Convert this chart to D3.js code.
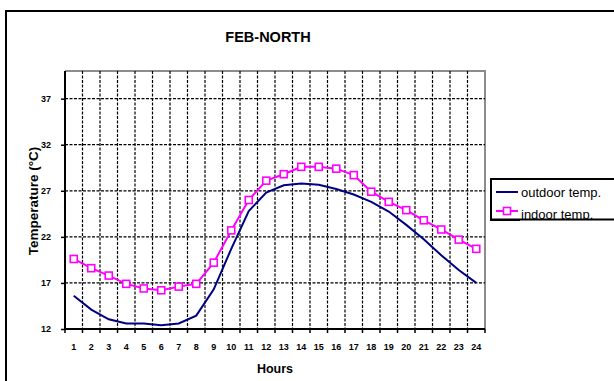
<!DOCTYPE html>
<html>
<head>
<meta charset="utf-8">
<script src="https://cdn.jsdelivr.net/npm/d3@7"></script>
<style>
  html, body { margin: 0; padding: 0; background: #fff; }
  svg { display: block; font-family: "Liberation Sans", Arial, sans-serif; }
</style>
</head>
<body>
<svg id="chart" width="614" height="381"></svg>
<script>
// Hourly temperatures, February, north-facing room
const hours = ["1","2","3","4","5","6","7","8","9","10","11","12","13","14","15","16","17","18","19","20","21","22","23","24"];
const outdoorTemp = [15.6, 14.1, 13.05, 12.6, 12.6, 12.4, 12.6, 13.45, 16.3, 20.7, 24.8, 26.8, 27.6, 27.8, 27.65, 27.2, 26.6, 25.8, 24.75, 23.3, 21.75, 20.0, 18.4, 17.0];
const indoorTemp  = [19.6, 18.6, 17.8, 16.9, 16.4, 16.2, 16.6, 16.9, 19.2, 22.7, 26.0, 28.1, 28.8, 29.6, 29.6, 29.4, 28.7, 26.9, 25.8, 24.9, 23.8, 22.8, 21.7, 20.7];
const yTicks = [12, 17, 22, 27, 32, 37];
const seriesNames = ["outdoor temp.", "indoor temp."];

const svg = d3.select("#chart");
const plot = { left: 65, right: 485, top: 71, bottom: 329 };

const x = d3.scaleBand().domain(hours).range([plot.left, plot.right]).padding(0);
const y = d3.scaleLinear().domain([12, 40]).range([plot.bottom, plot.top]);

// outer chart frame (runs past the right and bottom edges)
svg.append("rect")
  .attr("x", 6).attr("y", 11).attr("width", 640).attr("height", 420)
  .attr("fill", "none").attr("stroke", "#000").attr("stroke-width", 2);

// title
svg.append("text")
  .attr("x", 268).attr("y", 42)
  .attr("text-anchor", "middle")
  .attr("font-size", 14.5).attr("font-weight", "bold")
  .text("FEB-NORTH");

// plot area frame (top and right)
svg.append("path")
  .attr("d", `M${plot.left},${plot.top}H${plot.right}V${plot.bottom}`)
  .attr("fill", "none").attr("stroke", "#8c8c8c").attr("stroke-width", 2);

// horizontal gridlines
svg.append("g")
  .selectAll("line")
  .data(yTicks.filter(t => t > 12))
  .join("line")
  .attr("x1", plot.left).attr("x2", plot.right)
  .attr("y1", d => y(d)).attr("y2", d => y(d))
  .attr("stroke", "#000").attr("stroke-width", 1.2)
  .attr("stroke-dasharray", "3,1.5");

// vertical gridlines at category boundaries
const boundaries = hours.slice(1).map(h => x(h));
svg.append("g")
  .selectAll("line")
  .data(boundaries)
  .join("line")
  .attr("x1", d => d).attr("x2", d => d)
  .attr("y1", plot.top).attr("y2", plot.bottom)
  .attr("stroke", "#000").attr("stroke-width", 1.2)
  .attr("stroke-dasharray", "3,1.5");

// y axis
const yAxis = svg.append("g")
  .attr("transform", `translate(${plot.left},0)`)
  .call(d3.axisLeft(y).tickValues(yTicks).tickSize(4).tickPadding(10).tickFormat(d3.format("d")));
yAxis.select(".domain").attr("d", `M0,${plot.top}V${plot.bottom}`).attr("stroke-width", 2);
yAxis.selectAll(".tick line").attr("stroke-width", 1.5);
yAxis.selectAll("text")
  .attr("font-size", 9).attr("font-weight", "bold")
  .attr("font-family", "Liberation Sans, Arial, sans-serif");

// x axis: ticks at band edges, labels at band centers
const xAxis = svg.append("g")
  .attr("transform", `translate(0,${plot.bottom})`);
xAxis.append("line")
  .attr("x1", plot.left - 1).attr("x2", plot.right)
  .attr("stroke", "#000").attr("stroke-width", 2);
xAxis.selectAll(".edge")
  .data(hours.map(h => x(h)).concat([x(hours[hours.length - 1]) + x.bandwidth()]))
  .join("line")
  .attr("class", "edge")
  .attr("x1", d => d).attr("x2", d => d)
  .attr("y1", 0).attr("y2", 4)
  .attr("stroke", "#000").attr("stroke-width", 1.5);
xAxis.selectAll("text")
  .data(hours)
  .join("text")
  .attr("x", d => x(d) + x.bandwidth() / 2)
  .attr("y", 21)
  .attr("text-anchor", "middle")
  .attr("font-size", 9).attr("font-weight", "bold")
  .text(d => d);

// axis titles
svg.append("text")
  .attr("x", 275).attr("y", 373)
  .attr("text-anchor", "middle")
  .attr("font-size", 12.5).attr("font-weight", "bold")
  .text("Hours");

svg.append("text")
  .attr("transform", "translate(38,201) rotate(-90)")
  .attr("text-anchor", "middle")
  .attr("font-size", 13.5).attr("font-weight", "bold")
  .text("Temperature (°C)");

// series
const cx = (d, i) => x(hours[i]) + x.bandwidth() / 2;
const line = d3.line().x(cx).y(d => y(d));

svg.append("path")
  .datum(outdoorTemp)
  .attr("d", line)
  .attr("fill", "none").attr("stroke", "#000080").attr("stroke-width", 2);

svg.append("path")
  .datum(indoorTemp)
  .attr("d", line)
  .attr("fill", "none").attr("stroke", "#ff00ff").attr("stroke-width", 2);

const sq = 7;
svg.append("g")
  .selectAll("rect")
  .data(indoorTemp)
  .join("rect")
  .attr("x", (d, i) => cx(d, i) - sq / 2)
  .attr("y", d => y(d) - sq / 2)
  .attr("width", sq).attr("height", sq)
  .attr("fill", "#fff").attr("stroke", "#ff00ff").attr("stroke-width", 1.6);

// legend
const legend = svg.append("g");
legend.append("rect")
  .attr("x", 491).attr("y", 179).attr("width", 140).attr("height", 41)
  .attr("fill", "#fff").attr("stroke", "#000").attr("stroke-width", 2);
const legendRows = [
  { name: seriesNames[0], color: "#000080", marker: false, ly: 192, ty: 197 },
  { name: seriesNames[1], color: "#ff00ff", marker: true, ly: 211, ty: 219 }
];
legendRows.forEach(r => {
  legend.append("line")
    .attr("x1", 496).attr("x2", 518).attr("y1", r.ly).attr("y2", r.ly)
    .attr("stroke", r.color).attr("stroke-width", 2);
  if (r.marker) {
    legend.append("rect")
      .attr("x", 507 - sq / 2).attr("y", r.ly - sq / 2)
      .attr("width", sq).attr("height", sq)
      .attr("fill", "#fff").attr("stroke", r.color).attr("stroke-width", 1.6);
  }
  legend.append("text")
    .attr("x", 521).attr("y", r.ty)
    .attr("font-size", 13)
    .text(r.name);
});
// white mask under the frame's bottom edge, then the edge itself over the text
legend.append("rect")
  .attr("x", 520).attr("y", 219).attr("width", 94).attr("height", 5)
  .attr("fill", "#fff");
legend.append("line")
  .attr("x1", 490).attr("x2", 614).attr("y1", 219.5).attr("y2", 219.5)
  .attr("stroke", "#000").attr("stroke-width", 2);
</script>
</body>
</html>
